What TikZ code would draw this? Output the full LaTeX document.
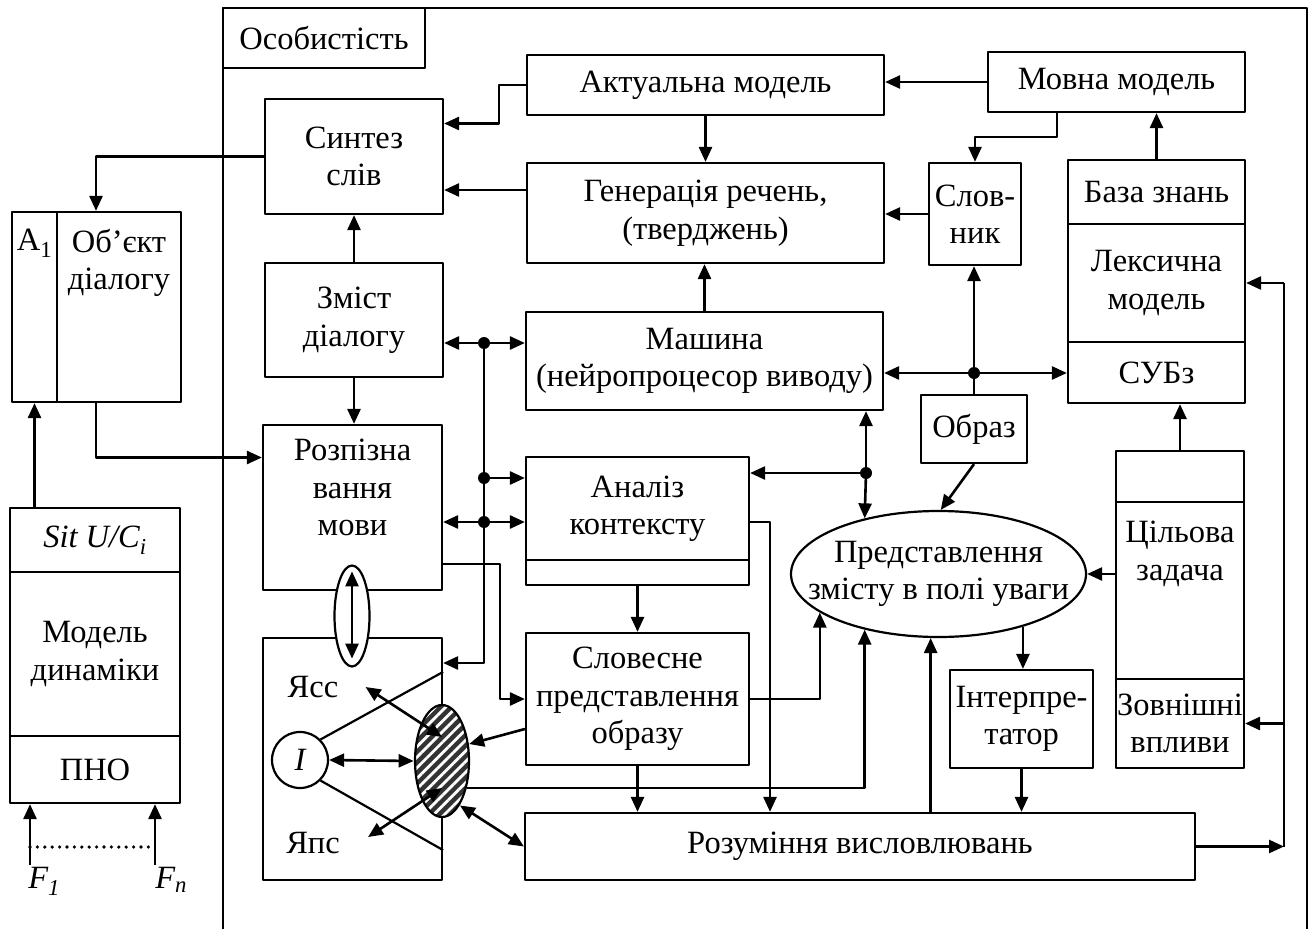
\documentclass[tikz,border=0pt]{standalone}
\usepackage{fontspec}
\setmainfont{Liberation Serif}
\usetikzlibrary{arrows.meta,shapes.geometric,patterns.meta}
\begin{document}
\begin{tikzpicture}[x=1pt, y=-1pt, font=\fontsize{32.5}{37.5}\selectfont, line join=round, line width=2.6pt, >={Triangle[length=15pt,width=13pt]},
	box/.style 2 args={draw, line width=2.2pt, inner sep=0pt, align=center, minimum width=#1pt, minimum height=#2pt},
	oval/.style 2 args={draw, ellipse, line width=2.2pt, inner sep=0pt, minimum width=#1pt, minimum height=#2pt},
	every label/.append style={inner sep=0pt, align=center},
	txt/.style={inner sep=0pt}]
	\path[fill=white] (0,0) rectangle (1313,929);
	\draw[line width=2.4pt] (223,929) -- (223,8) -- (1307,8) -- (1307,929);
	\node[box={202}{60}] (osob) at (324,38) {Особистість};
	% object of dialogue and its model
	\node[box={45}{190}, label={[anchor=north,yshift=-17pt]north:А\textsubscript{1}}] (a1) at (34.5,307) {};
	\node[box={124}{190}, label={[anchor=north,yshift=-17pt]north:Об’єкт\\діалогу}] (obj) at (119,307) {};
	\node[box={170}{64}] (sit) at (95,540) {\itshape Sit U/C\textsubscript{i}};
	\node[box={170}{164}] (dyn) at (95,654) {Модель\\динаміки};
	\node[box={170}{67}] (pno) at (95,769.5) {ПНО};
	\coordinate (f1) at (30,865); \coordinate (fn) at (155,865);
	\draw[->] (f1) -- (f1 |- pno.south);
	\draw[->] (fn) -- (fn |- pno.south);
	\draw[line width=3.6pt, line cap=round, dash pattern=on 0pt off 7.4pt] ([yshift=18pt]f1) -- ([yshift=18pt]fn);
	\node[txt, anchor=north west] (F1) at (27,866) {\itshape F\textsubscript{1}};
	\node[txt, anchor=north west] (Fn) at (154,866) {\itshape F\textsubscript{n}};
	% personality
	\node[box={178}{115}] (sintez) at (354,156.5) {Синтез\\слів};
	\node[box={178}{114}] (zmist) at (354,320) {Зміст\\діалогу};
	\node[box={179}{165}, label={[anchor=north,yshift=-14pt]north:Розпізна\\вання\\мови}] (rozp) at (352.5,507.5) {};
	\node[box={179}{242}] (ja) at (352.5,759) {};
	\node[oval={35}{101}, fill=white] (link) at (352,616) {};
	\node[box={357}{60}] (aktual) at (705.5,85) {Актуальна модель};
	\node[box={257}{60}] (movna) at (1116.5,82) {Мовна модель};
	\node[box={357}{100}] (gener) at (705.5,213) {Генерація речень,\\(тверджень)};
	\node[box={92}{102}] (slovn) at (975,214) {Слов-\\ник};
	\node[box={177}{64}] (baza) at (1156.5,192) {База знань};
	\node[box={177}{118}] (leks) at (1156.5,283) {Лексична\\модель};
	\node[box={177}{61}] (subz) at (1156.5,372.5) {СУБз};
	\node[box={357}{98}] (mashyna) at (704.5,361) {Машина\\(нейропроцесор виводу)};
	\node[box={106}{68}] (obraz) at (974,429) {Образ};
	\node[box={223}{103}] (analiz) at (637.5,508.5) {Аналіз\\контексту};
	\node[box={223}{25}] (analizb) at (637.5,572.5) {};
	\node[box={223}{132}] (slovesne) at (637.5,699) {Словесне\\представлення\\образу};
	\node[box={670}{67}] (rozum) at (860,846.5) {Розуміння висловлювань};
	\node[oval={295}{126}, label={center:Представлення\\змісту в полі уваги}] (pole) at (938.5,574) {};
	\node[box={128}{51}] (cilt) at (1180,476.5) {};
	\node[box={128}{177}, label={[anchor=north,yshift=-19pt]north:Цільова\\задача}] (cilm) at (1180,590.5) {};
	\node[box={128}{89}] (ziln) at (1180,723.5) {Зовнішні\\впливи};
	\node[box={143}{98}] (interp) at (1021.5,719) {Інтерпре-\\татор};
	% inside the self
	\node[txt] (jass) at (313,687) {Ясс};
	\node[txt] (japs) at (313,843) {Япс};
	\node[draw, circle, line width=2.2pt, minimum size=56pt, inner sep=0pt, font=\fontsize{32.5}{37.5}\selectfont\itshape] (ci) at (300,760) {I};
	\draw[line width=2.2pt] (ci.45) -- ([yshift=-35pt]ja.north east);
	\draw[line width=2.2pt] (ci.-45) -- ([yshift=31pt]ja.south east);
	\node[oval={54}{112}, preaction={fill=black!80}, pattern={Lines[angle=45,distance=7.5pt,line width=2.8pt]}, pattern color=white] (hatch) at (442,761) {};
	\draw[<->] (ci.east) -- (hatch.west);
	\draw[<->] ([xshift=26pt]jass.east) -- ([yshift=24pt]hatch.center);
	\draw[<->] ([xshift=27pt,yshift=6pt]japs.east) -- ([yshift=-27pt]hatch.center);
	\draw[<->] ([yshift=-7pt]link.north) -- ([yshift=9pt]link.south);
	% bus and junctions
	\coordinate (d1) at (484,343);
	\coordinate (d2) at (484,478);
	\coordinate (d3) at (484,522);
	\coordinate (d4) at (484,663);
	\coordinate (dA) at (866,473);
	\coordinate (dB) at (974,373);
	\coordinate (rb) at (1284,846.5);
	\draw[<->] (zmist.east |- d1) -- (mashyna.west |- d1);
	\draw[->] (d1) -- (d4) -- (d4 -| ja.east);
	\draw[->] (d2) -- (d2 -| analiz.west);
	\draw[<->] (rozp.east |- d3) -- (d3 -| analiz.west);
	\draw[->] (dA) -- (dA -| analiz.east);
	\draw[->] (dA) -- (dA |- mashyna.south);
	\draw[->] (dA) -- (pole.143);
	\draw[<->] (mashyna.east |- dB) -- (dB -| subz.west);
	\draw (obraz.north) -- (dB);
	\draw[->] (dB) -- (dB |- slovn.south);
	\foreach \p in {d1,d2,d3,dA,dB} \fill (\p) circle (6pt);
	% connectors
	\draw[->] (obraz.south) -- (pole.88);
	\draw[->] (pole.east -| cilm.west) -- (pole.east);
	\draw[->] (cilt.north) -- (cilt.north |- subz.south);
	\draw[->] (baza.north) -- (baza.north |- movna.south);
	\draw[->] (movna.west) -- (movna.west -| aktual.east);
	\draw[->] ([xshift=-59.5pt]movna.south) -- ++(0,24) -| (slovn.north);
	\draw[->] (slovn.west) -- (slovn.west -| gener.east);
	\draw[->] (aktual.south) -- (aktual.south |- gener.north);
	\draw[->] (mashyna.north) -- (mashyna.north |- gener.south);
	\draw[->] (aktual.west) -- ++(-27,0) |- ([yshift=33pt]sintez.east);
	\draw[->] ([yshift=23pt]gener.west) -- ([yshift=23pt]gener.west -| sintez.east);
	\draw[->] (zmist.north) -- (sintez.south);
	\draw[->] (zmist.south) -- (zmist.south |- rozp.north);
	\draw[->] (sintez.west) -| ([xshift=-23pt]obj.north);
	\draw[->] ([xshift=-23pt]obj.south) |- ([yshift=50pt]rozp.west);
	\draw[->] (a1.south |- sit.north) -- (a1.south);
	\draw[->] ([yshift=-56.5pt]rozp.east) -- ++(57,0) |- (slovesne.west);
	\draw[->] (analizb.south) -- (slovesne.north);
	\draw[->] ([yshift=-13.5pt]analiz.east) -| ([xshift=-90pt]rozum.north);
	\draw[->] (slovesne.south) -- (slovesne.south |- rozum.north);
	\draw[->] (slovesne.east) -| (pole.-162);
	\draw[->] ([yshift=-30pt]slovesne.west) -- (hatch.32);
	\draw[->] (hatch.-47) -| (pole.-143);
	\draw[<->] (hatch.-68) -- (rozum.west);
	\draw[->] (pole.-97 |- rozum.north) -- (pole.-97);
	\draw[->] (pole.-32) -- (pole.-32 |- interp.north);
	\draw[->] (interp.south) -- (interp.south |- rozum.north);
	\draw[->] (rozum.east) -- (rb);
	\draw (rb) -- (rb |- leks.east);
	\draw[->] (rb |- leks.east) -- (leks.east);
	\draw[->] (rb |- ziln.east) -- (ziln.east);
\end{tikzpicture}
\end{document}
